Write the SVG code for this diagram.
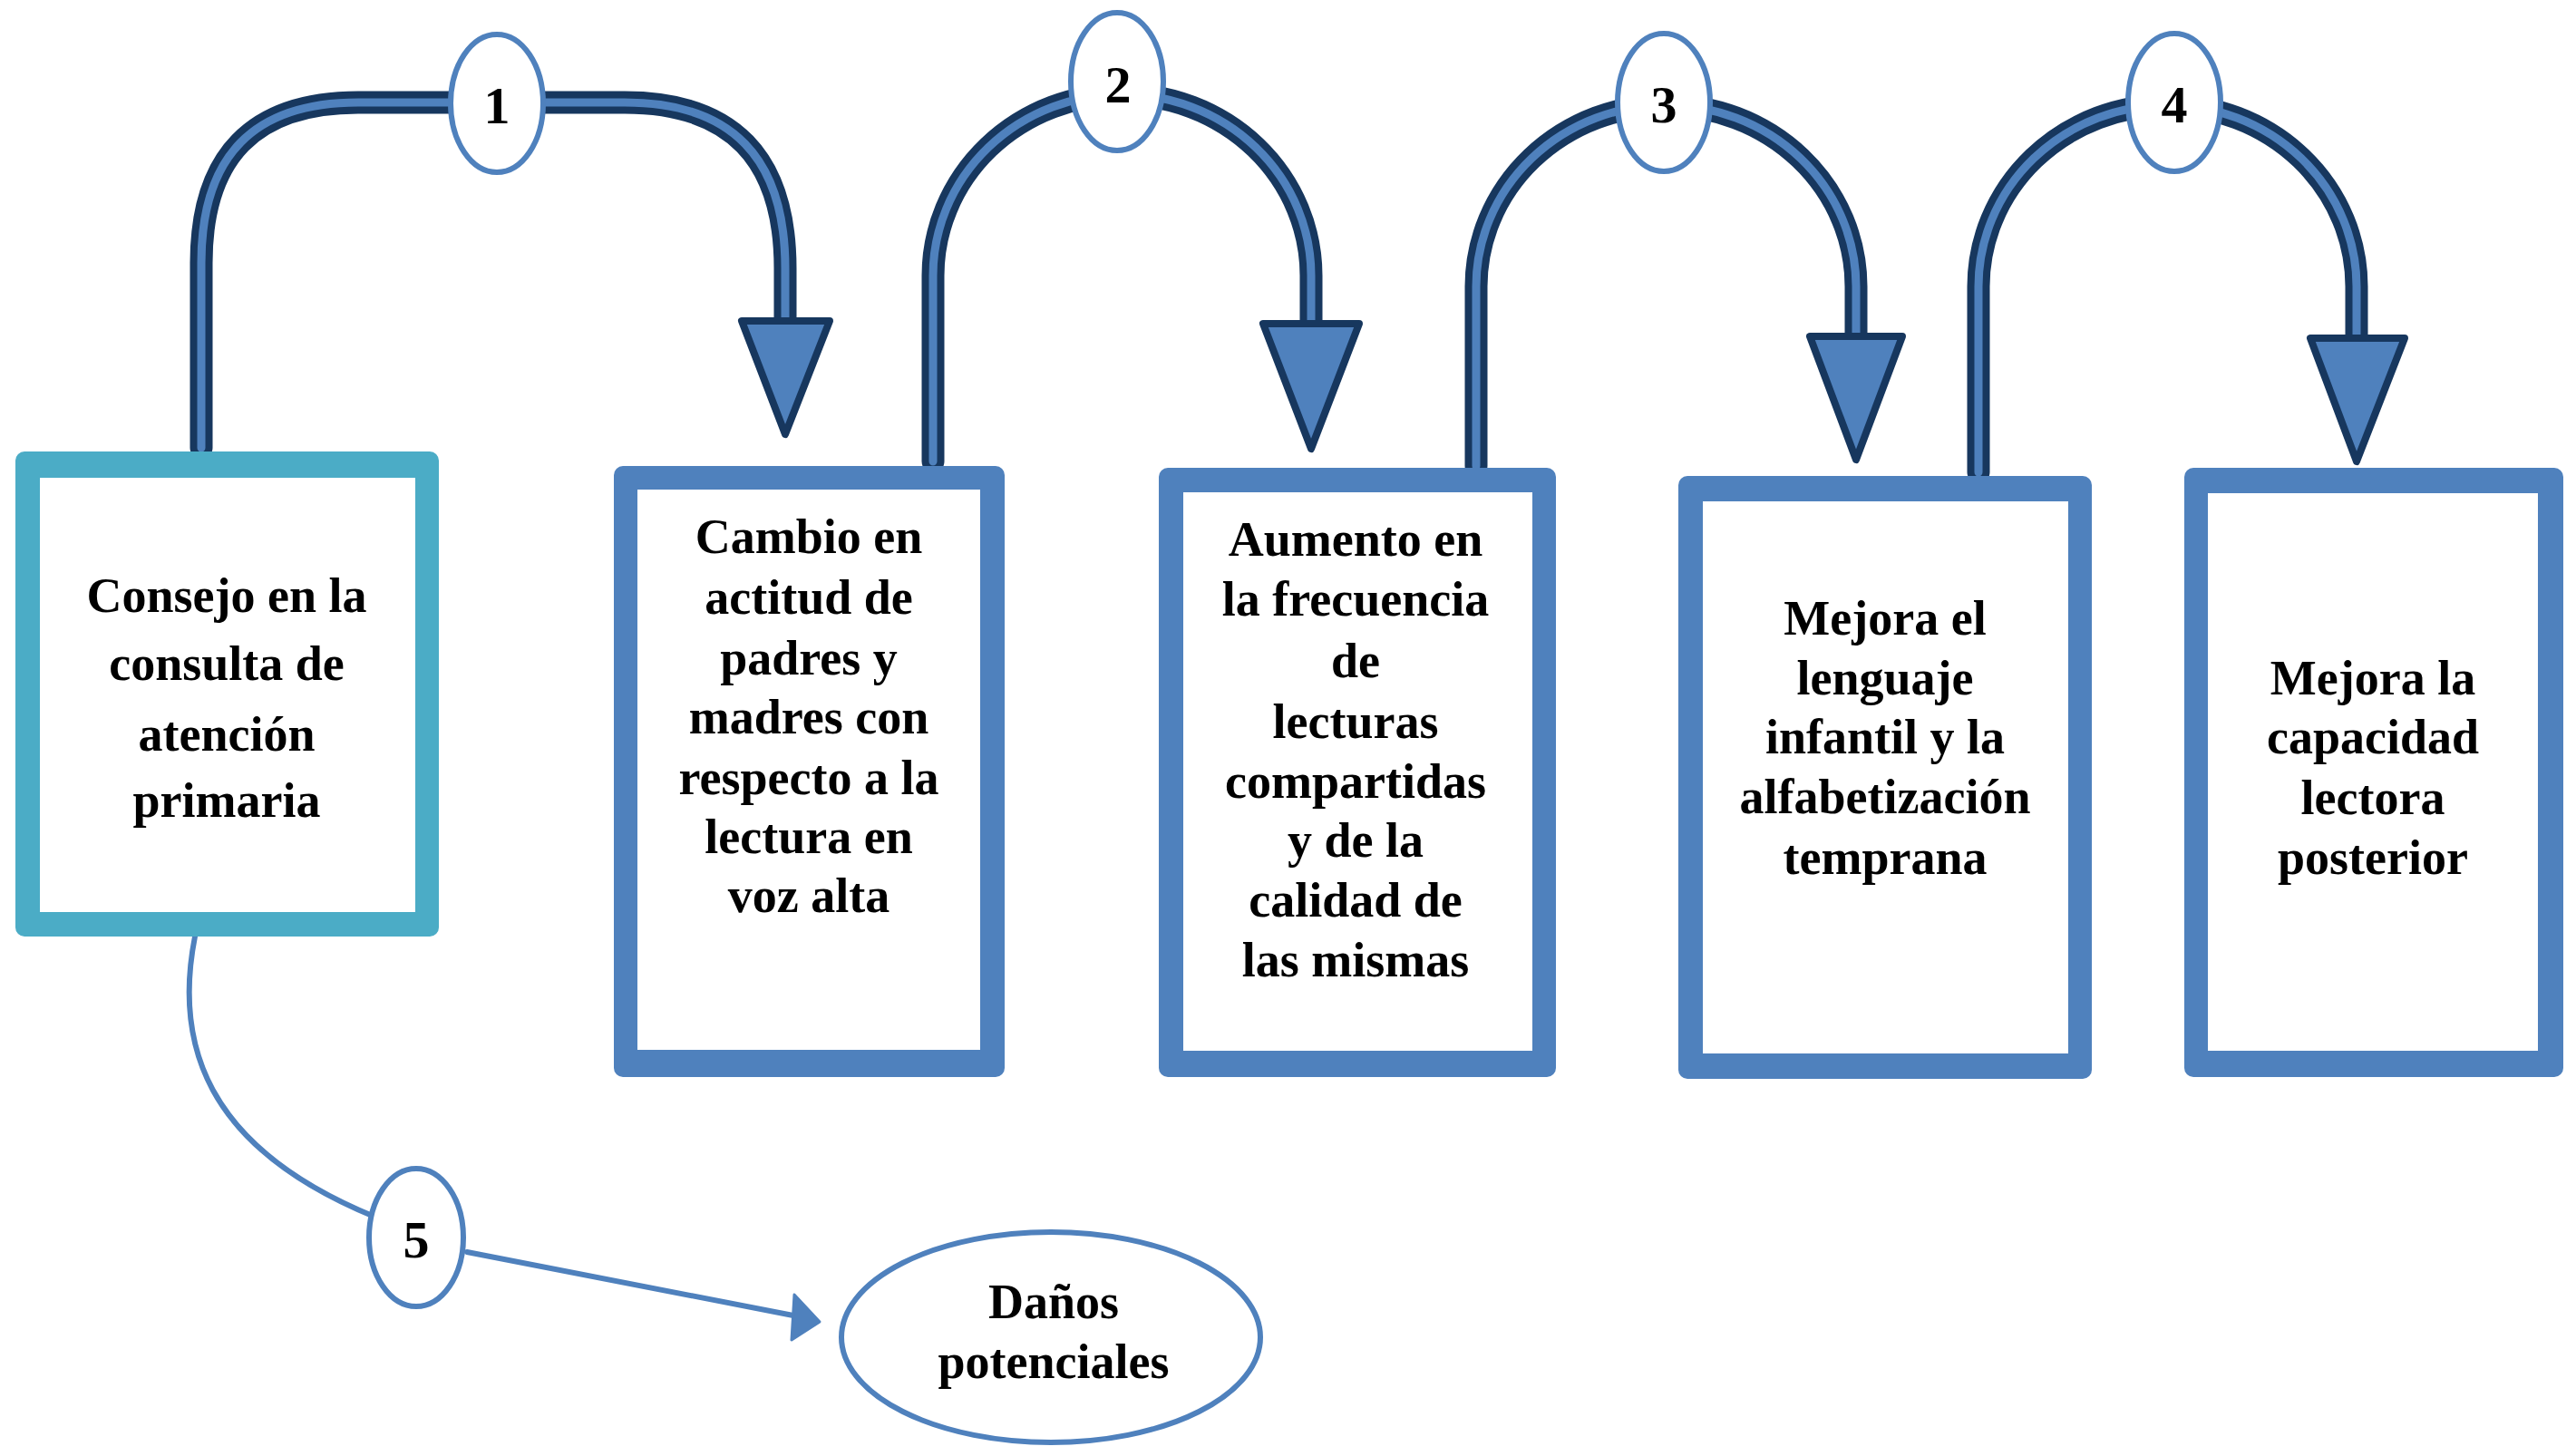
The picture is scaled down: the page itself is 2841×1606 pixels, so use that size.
<svg xmlns="http://www.w3.org/2000/svg" width="2841" height="1606" viewBox="0 0 2841 1606">
<style>
.txt{font-family:"Liberation Serif","Times New Roman",serif;font-weight:bold;font-size:54px;fill:#000;text-anchor:middle}
.num{font-family:"Liberation Serif","Times New Roman",serif;font-weight:bold;font-size:58px;fill:#000;text-anchor:middle}
.outer{fill:none;stroke:#17375E;stroke-width:25;stroke-linecap:round;stroke-linejoin:round}
.inner{fill:none;stroke:#4F81BD;stroke-width:9;stroke-linecap:round;stroke-linejoin:round}
.head{fill:#4F81BD;stroke:#17375E;stroke-width:8;stroke-linejoin:round}
.badge{fill:#fff;stroke:#4F81BD;stroke-width:6}
.thin{fill:none;stroke:#4F81BD;stroke-width:6;stroke-linecap:round}
</style>
<rect width="2841" height="1606" fill="#fff"/>
<g id="connectors">
  <g id="c1">
    <path class="outer" d="M222 494 L222 290 Q222 113 395 113 L689 113 Q866 113 866 296 L866 370"/>
    <path class="inner" d="M222 494 L222 290 Q222 113 395 113 L689 113 Q866 113 866 296 L866 370"/>
    <polygon class="head" points="818,354 915,354 866,479"/>
  </g>
  <g id="c2">
    <path class="outer" d="M1029 509 L1029 304 A208.5 200 0 0 1 1446 304 L1446 372"/>
    <path class="inner" d="M1029 509 L1029 304 A208.5 200 0 0 1 1446 304 L1446 372"/>
    <polygon class="head" points="1393,357 1499,357 1446,495"/>
  </g>
  <g id="c3">
    <path class="outer" d="M1628 514 L1628 316 A209.5 200 0 0 1 2047 316 L2047 386"/>
    <path class="inner" d="M1628 514 L1628 316 A209.5 200 0 0 1 2047 316 L2047 386"/>
    <polygon class="head" points="1996,371 2098,371 2047,507"/>
  </g>
  <g id="c4">
    <path class="outer" d="M2182 521 L2182 316 A208.5 200 0 0 1 2599 316 L2599 388"/>
    <path class="inner" d="M2182 521 L2182 316 A208.5 200 0 0 1 2599 316 L2599 388"/>
    <polygon class="head" points="2548,373 2652,373 2599,509"/>
  </g>
  <g id="c5">
    <path class="thin" d="M215 1033 C192 1150 225 1265 413 1342"/>
    <path class="thin" d="M515 1381 L880 1452" stroke-width="8"/>
    <polygon points="876,1428 904,1458 873,1478" fill="#4F81BD" stroke="#4F81BD" stroke-width="3" stroke-linejoin="round"/>
  </g>
</g>
<g id="badge1"><ellipse class="badge" cx="548" cy="114" rx="51" ry="76"/><text class="num" x="548" y="136">1</text></g>
<g id="badge2"><ellipse class="badge" cx="1232" cy="90" rx="51" ry="76"/><text class="num" x="1233" y="113">2</text></g>
<g id="badge3"><ellipse class="badge" cx="1835" cy="113" rx="51" ry="76"/><text class="num" x="1835" y="135">3</text></g>
<g id="badge4"><ellipse class="badge" cx="2398" cy="113" rx="51" ry="76"/><text class="num" x="2398" y="135">4</text></g>
<g id="badge5"><ellipse class="badge" cx="459" cy="1365" rx="52" ry="76"/><text class="num" x="459" y="1387">5</text></g>
<g id="box1">
  <rect x="17" y="498" width="467" height="535" rx="10" fill="#4BACC6"/>
  <rect x="44" y="527" width="414" height="479" fill="#fff"/>
  <text class="txt"><tspan x="250" y="675">Consejo en la</tspan><tspan x="250" y="750">consulta de</tspan><tspan x="250" y="828">atención</tspan><tspan x="250" y="901">primaria</tspan></text>
</g>
<g id="box2">
  <rect x="677" y="514" width="431" height="674" rx="10" fill="#4F81BD"/>
  <rect x="703" y="540" width="378" height="618" fill="#fff"/>
  <text class="txt"><tspan x="892" y="610">Cambio en</tspan><tspan x="892" y="677">actitud de</tspan><tspan x="892" y="744">padres y</tspan><tspan x="892" y="809">madres con</tspan><tspan x="892" y="876">respecto a la</tspan><tspan x="892" y="941">lectura en</tspan><tspan x="892" y="1006">voz alta</tspan></text>
</g>
<g id="box3">
  <rect x="1278" y="516" width="438" height="672" rx="10" fill="#4F81BD"/>
  <rect x="1305" y="543" width="385" height="616" fill="#fff"/>
  <text class="txt"><tspan x="1495" y="613">Aumento en</tspan><tspan x="1495" y="679">la frecuencia</tspan><tspan x="1495" y="747">de</tspan><tspan x="1495" y="814">lecturas</tspan><tspan x="1495" y="880">compartidas</tspan><tspan x="1495" y="945">y de la</tspan><tspan x="1495" y="1011">calidad de</tspan><tspan x="1495" y="1077">las mismas</tspan></text>
</g>
<g id="box4">
  <rect x="1851" y="525" width="456" height="665" rx="10" fill="#4F81BD"/>
  <rect x="1878" y="553" width="403" height="609" fill="#fff"/>
  <text class="txt"><tspan x="2079" y="700">Mejora el</tspan><tspan x="2079" y="766">lenguaje</tspan><tspan x="2079" y="831">infantil y la</tspan><tspan x="2079" y="897">alfabetización</tspan><tspan x="2079" y="964">temprana</tspan></text>
</g>
<g id="box5">
  <rect x="2409" y="516" width="418" height="672" rx="10" fill="#4F81BD"/>
  <rect x="2435" y="544" width="364" height="615" fill="#fff"/>
  <text class="txt"><tspan x="2617" y="766">Mejora la</tspan><tspan x="2617" y="831">capacidad</tspan><tspan x="2617" y="898">lectora</tspan><tspan x="2617" y="964">posterior</tspan></text>
</g>
<g id="danos">
  <ellipse cx="1159" cy="1475" rx="231" ry="116" fill="#fff" stroke="#4F81BD" stroke-width="6"/>
  <text class="txt"><tspan x="1162" y="1454">Daños</tspan><tspan x="1162" y="1520">potenciales</tspan></text>
</g>
</svg>
